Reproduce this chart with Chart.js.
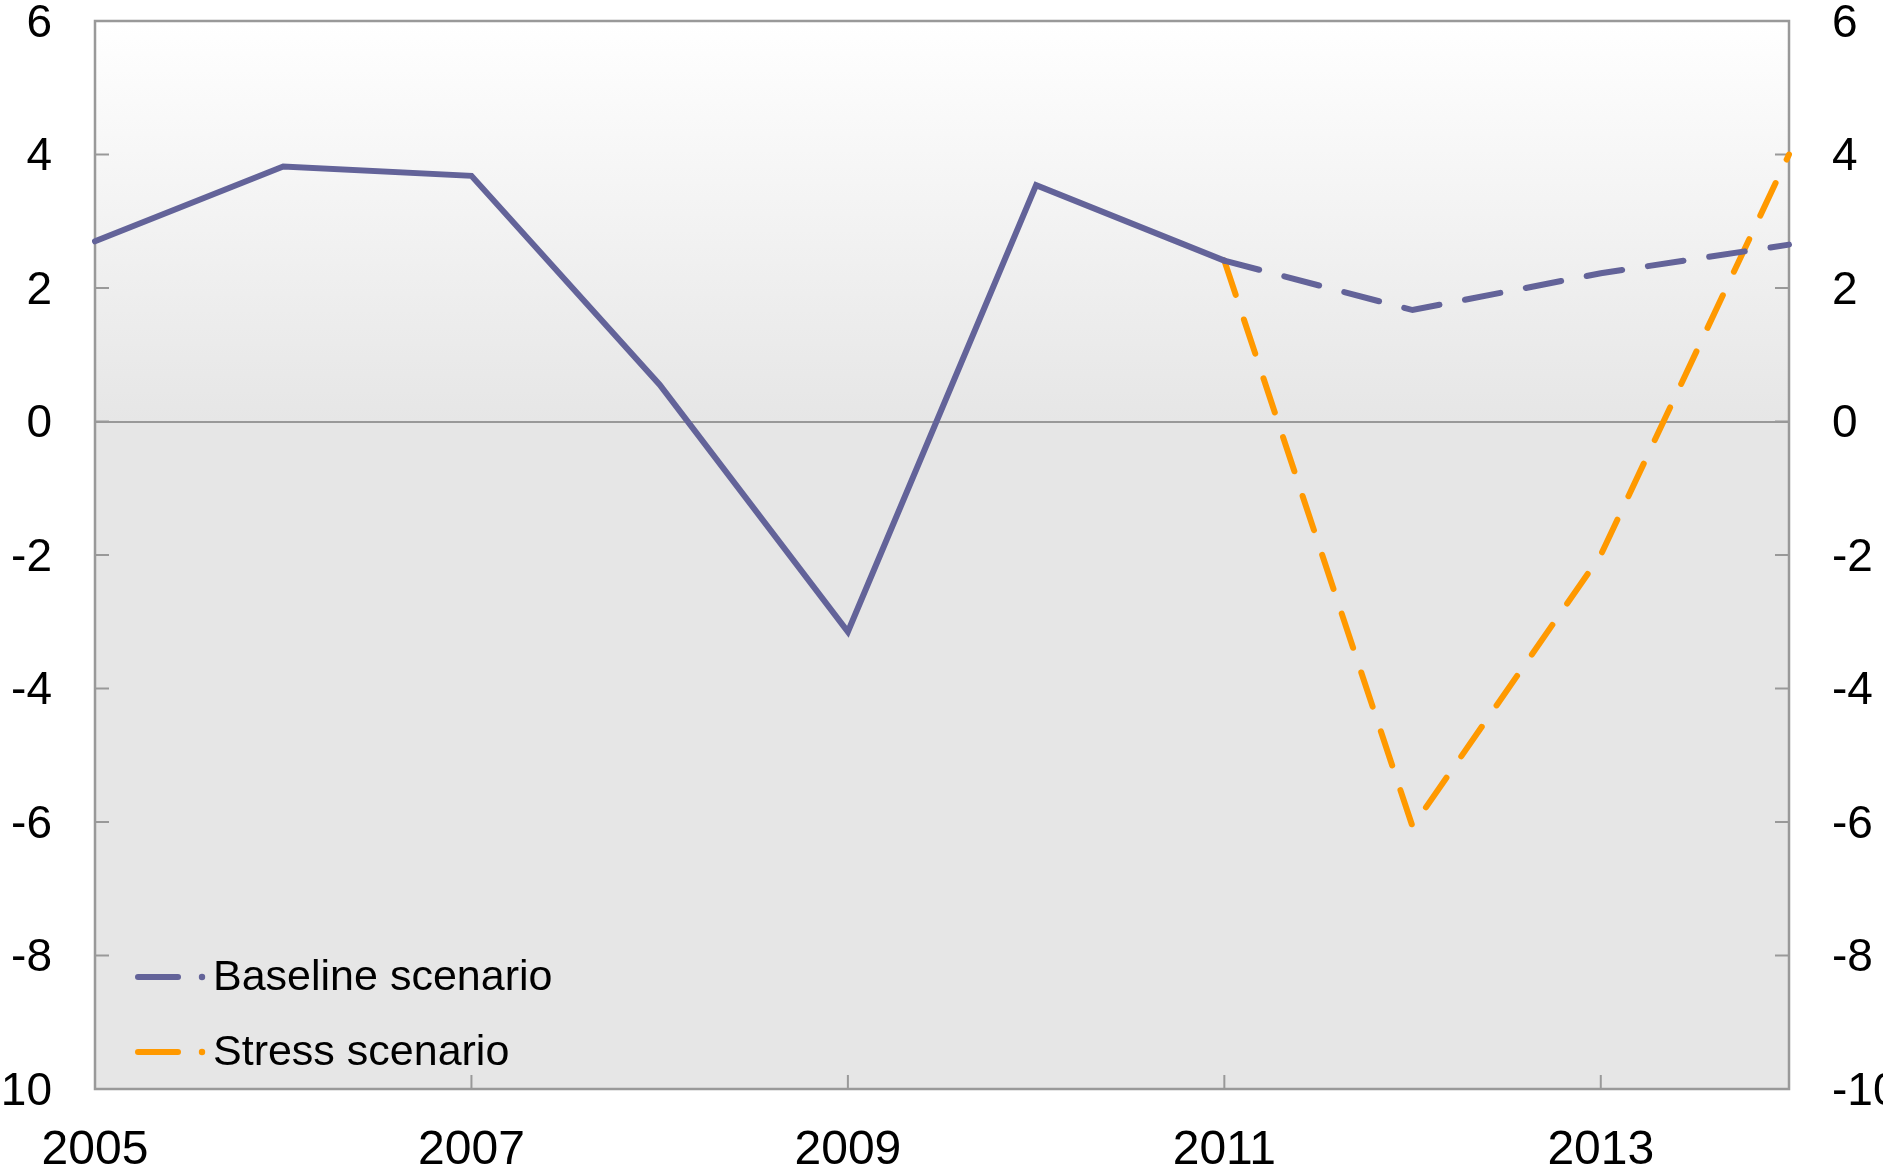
<!DOCTYPE html>
<html>
<head>
<meta charset="utf-8">
<script src="https://cdn.jsdelivr.net/npm/chart.js@4/dist/chart.umd.min.js"></script>
<style>
  html, body { margin: 0; padding: 0; background: #fff; overflow: hidden; width: 1883px; height: 1174px; }
  #wrap { position: absolute; left: -40px; top: 0; }
</style>
</head>
<body>
<div id="wrap"><canvas id="chart" width="1963" height="1174"></canvas></div>
<script>
// ===== DADOS =====
const anos = ['2005', '2006', '2007', '2008', '2009', '2010', '2011', '2012', '2013', '2014'];
const baseline = [2.7, 3.82, 3.68, 0.55, -3.15, 3.54, 2.41, 1.67, 2.22, 2.65];
const stress = [null, null, null, null, null, null, 2.41, -6.07, -2.0, 4.0];
const yMin = -10, yMax = 6, yStep = 2;
const legendas = ['Baseline scenario', 'Stress scenario'];

const roxo = '#636399';
const laranja = '#ff9900';
const cinza = '#999999';
const fonte = '"Liberation Sans", Arial, sans-serif';

// inicio do cenario projetado (baseline fica tracejada depois daqui)
const inicioProj = anos.indexOf('2011');

// ===== PLUGIN: fundo, moldura, marcas e legenda =====
const moldura = {
  id: 'moldura',
  beforeDraw(chart) {
    const { ctx, chartArea: a, scales } = chart;
    const g = ctx.createLinearGradient(0, a.top, 0, scales.y.getPixelForValue(0));
    g.addColorStop(0, '#ffffff');
    g.addColorStop(1, '#e6e6e6');
    ctx.save();
    ctx.fillStyle = g;
    ctx.fillRect(a.left, a.top, a.right - a.left, a.bottom - a.top);
    ctx.restore();
  },
  beforeDatasetsDraw(chart) {
    const { ctx, chartArea: a, scales } = chart;
    ctx.save();
    ctx.strokeStyle = cinza;
    ctx.lineWidth = 2;
    // marcas internas nos eixos y
    scales.y.ticks.forEach(t => {
      const py = scales.y.getPixelForValue(t.value);
      ctx.beginPath();
      ctx.moveTo(a.left, py); ctx.lineTo(a.left + 14, py);
      ctx.moveTo(a.right, py); ctx.lineTo(a.right - 14, py);
      ctx.stroke();
    });
    // marcas no eixo x
    anos.forEach((ano, i) => {
      if (i % 2 !== 0) return;
      const px = scales.x.getPixelForValue(i);
      ctx.beginPath();
      ctx.moveTo(px, a.bottom); ctx.lineTo(px, a.bottom - 14);
      ctx.stroke();
    });
    ctx.lineWidth = 2.5;
    ctx.strokeRect(a.left, a.top, a.right - a.left, a.bottom - a.top);
    ctx.restore();
  },
  afterDraw(chart) {
    const { ctx, chartArea: a } = chart;
    const cores = [roxo, laranja];
    const linhas = [a.bottom - 112, a.bottom - 37];
    ctx.save();
    ctx.font = '43px ' + fonte;
    ctx.textBaseline = 'middle';
    legendas.forEach((txt, i) => {
      const y = linhas[i];
      ctx.strokeStyle = cores[i];
      ctx.fillStyle = cores[i];
      ctx.lineWidth = 6;
      ctx.lineCap = 'round';
      ctx.beginPath();
      ctx.moveTo(a.left + 43, y); ctx.lineTo(a.left + 83, y);
      ctx.stroke();
      ctx.beginPath();
      ctx.arc(a.left + 107, y, 3.2, 0, Math.PI * 2);
      ctx.fill();
      ctx.fillStyle = '#000';
      ctx.fillText(txt, a.left + 118, y + 1);
    });
    ctx.restore();
  }
};

// ===== GRAFICO =====
new Chart(document.getElementById('chart'), {
  type: 'line',
  data: {
    labels: anos,
    datasets: [
      {
        label: legendas[0], data: baseline, borderColor: roxo, borderWidth: 6,
        pointRadius: 0, tension: 0, borderCapStyle: 'round', borderJoinStyle: 'miter',
        segment: { borderDash: c => c.p0DataIndex >= inicioProj ? [36, 26] : undefined }
      },
      {
        label: legendas[1], data: stress, borderColor: laranja, borderWidth: 6,
        pointRadius: 0, tension: 0, borderCapStyle: 'round', borderJoinStyle: 'miter',
        borderDash: [36, 26]
      }
    ]
  },
  options: {
    responsive: false,
    animation: false,
    layout: { padding: { top: 21, left: 0, right: 0, bottom: 0 } },
    plugins: { legend: { display: false }, tooltip: { enabled: false } },
    scales: {
      x: {
        offset: false,
        grid: { display: false, drawTicks: false },
        border: { display: false },
        ticks: {
          autoSkip: false, maxRotation: 0, padding: 38, color: '#000',
          font: { family: fonte, size: 48, lineHeight: 1 },
          callback: (v, i) => i % 2 === 0 ? anos[i] : ''
        },
        afterFit: s => { s.height = 85; }
      },
      y: {
        position: 'left', min: yMin, max: yMax,
        grid: {
          drawTicks: false, lineWidth: 2,
          color: c => c.tick && c.tick.value === 0 ? cinza : 'transparent'
        },
        border: { display: false },
        ticks: { stepSize: yStep, padding: 43, labelOffset: 3, color: '#000', font: { family: fonte, size: 46, lineHeight: 1 } },
        afterFit: s => { s.width = 135; s.paddingTop = 0; s.paddingBottom = 0; }
      },
      y2: {
        position: 'right', min: yMin, max: yMax,
        grid: { display: false, drawTicks: false },
        border: { display: false },
        ticks: { stepSize: yStep, padding: 43, labelOffset: 3, color: '#000', font: { family: fonte, size: 46, lineHeight: 1 } },
        afterFit: s => { s.width = 134; s.paddingTop = 0; s.paddingBottom = 0; }
      }
    }
  },
  plugins: [moldura]
});
</script>
</body>
</html>
